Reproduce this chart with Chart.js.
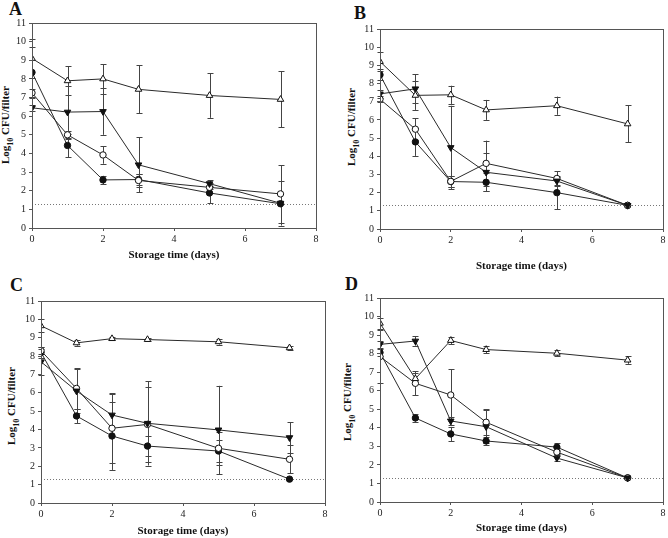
<!DOCTYPE html>
<html>
<head>
<meta charset="utf-8">
<script src="https://cdn.jsdelivr.net/npm/chart.js@4.4.1/dist/chart.umd.min.js"></script>
<style>
  body { margin: 0; background: #fff; }
  #wrap { position: relative; width: 668px; height: 538px; overflow: hidden; font-family: "Liberation Serif", "Times New Roman", serif; }
  canvas { position: absolute; }
  .letter { position: absolute; font-weight: bold; font-size: 18px; line-height: 18px; color: #111; }
  .ytitle { position: absolute; font-weight: bold; font-size: 11px; color: #111; white-space: nowrap;
            transform: translate(-50%, -50%) rotate(-90deg); }
  .ytitle sub { font-size: 8px; }
</style>
</head>
<body>
<div id="wrap">
  <div class="letter" style="left:9px;top:0">A</div>
  <div class="letter" style="left:354px;top:4px">B</div>
  <div class="letter" style="left:10px;top:276px">C</div>
  <div class="letter" style="left:345px;top:275px">D</div>

  <div class="ytitle" style="left:7px;top:125px">Log<sub>10</sub> CFU/filter</div>
  <div class="ytitle" style="left:353px;top:127px">Log<sub>10</sub> CFU/filter</div>
  <div class="ytitle" style="left:13px;top:406px">Log<sub>10</sub> CFU/filter</div>
  <div class="ytitle" style="left:349px;top:402px">Log<sub>10</sub> CFU/filter</div>

  <canvas id="cA" width="334" height="269" style="left:0;top:0"></canvas>
  <canvas id="cB" width="334" height="274" style="left:334px;top:0"></canvas>
  <canvas id="cC" width="334" height="269" style="left:0;top:269px"></canvas>
  <canvas id="cD" width="334" height="269" style="left:334px;top:269px"></canvas>
</div>

<script>
// storage days (x values)
var days = [0, 1, 2, 3, 5, 7];
var xTicks = [0, 2, 4, 6, 8];
var yTicks = [0, 1, 2, 3, 4, 5, 6, 7, 8, 9, 10, 11];
var detectionLimit = 1.3;

// panel A
var aSolidCircle = [8.35, 4.43, 2.58, 2.6, 1.88, 1.3];
var aSolidCircleErr = [1.35, 0.63, 0.22, 0.3, 0.55, 0];
var aOpenCircle = [7.25, 5.0, 3.92, 2.55, 2.18, 1.83];
var aOpenCircleErr = [0.2, 0.2, 0.47, 0.35, 0.1, 1.55];
var aSolidTri = [6.45, 6.22, 6.25, 3.39, 2.38, 1.33];
var aSolidTriErr = [0.15, 1.4, 1.25, 1.47, 0.17, 1.2];
var aOpenTri = [9.1, 7.9, 8.0, 7.44, 7.11, 6.9];
var aOpenTriErr = [1.05, 0.77, 0.8, 1.28, 1.2, 1.5];

// panel B
var bSolidCircle = [8.48, 4.79, 2.61, 2.57, 2.0, 1.3];
var bSolidCircleErr = [0.3, 0.77, 0.3, 0.5, 0.9, 0];
var bOpenCircle = [7.14, 5.49, 2.62, 3.61, 2.78, 1.3];
var bOpenCircleErr = [0.15, 0.6, 0.3, 1.25, 0.4, 0];
var bSolidTri = [7.43, 7.71, 4.48, 3.12, 2.64, 1.3];
var bSolidTriErr = [0.2, 0.8, 2.3, 1.05, 0.2, 0];
var bOpenTri = [9.21, 7.35, 7.38, 6.55, 6.78, 5.78];
var bOpenTriErr = [0.5, 0.8, 0.5, 0.55, 0.5, 1.02];

// panel C
var cSolidCircle = [8.2, 4.74, 3.65, 3.1, 2.83, 1.3];
var cSolidCircleErr = [0.3, 0.4, 1.85, 0.55, 0.6, 0];
var cOpenCircle = [8.29, 6.24, 4.07, 4.28, 2.98, 2.38];
var cOpenCircleErr = [0.2, 1.1, 1.9, 2.05, 0.9, 0.76];
var cSolidTri = [7.69, 6.1, 4.79, 4.34, 3.98, 3.56];
var cSolidTriErr = [0.7, 1.2, 1.13, 2.3, 2.4, 0.83];
var cOpenTri = [9.65, 8.72, 8.95, 8.9, 8.78, 8.45];
var cOpenTriErr = [0.35, 0.15, 0.08, 0.08, 0.15, 0.12];

// panel D
var dSolidCircle = [8.06, 4.53, 3.67, 3.29, 2.96, 1.3];
var dSolidCircleErr = [0.2, 0.2, 0.38, 0.2, 0.2, 0];
var dOpenCircle = [7.84, 6.4, 5.77, 4.3, 2.69, 1.3];
var dOpenCircleErr = [1.45, 0.65, 1.4, 0.7, 0.1, 0];
var dSolidTri = [8.5, 8.68, 4.37, 4.06, 2.37, 1.3];
var dSolidTriErr = [0.2, 0.25, 0.2, 0.9, 0.15, 0];
var dOpenTri = [9.64, 6.65, 8.71, 8.22, 8.02, 7.65];
var dOpenTriErr = [0.3, 0.3, 0.2, 0.2, 0.15, 0.2];

var LINE = '#2a2a2a';
var FONT = '"Liberation Serif", "Times New Roman", serif';

function pts(vals) {
  var out = [];
  for (var i = 0; i < days.length; i++) out.push({x: days[i], y: vals[i]});
  return out;
}

function series(vals, errs, style, filled, rot) {
  return {
    data: pts(vals),
    errors: errs,
    borderColor: LINE,
    borderWidth: 1,
    pointStyle: style,
    pointRotation: rot || 0,
    pointRadius: style == 'triangle' ? 3.8 : 3.2,
    pointBorderWidth: 1,
    pointBorderColor: '#111',
    pointBackgroundColor: filled ? '#111' : '#fff',
    tension: 0,
    fill: false
  };
}

// error bars, dotted limit line and frame
var extras = {
  id: 'extras',
  beforeDatasetsDraw: function(chart) {
    var ctx = chart.ctx, a = chart.chartArea;
    var ys = chart.scales.y;
    ctx.save();
    // detection limit
    ctx.strokeStyle = '#777';
    ctx.lineWidth = 1;
    ctx.setLineDash([1, 2]);
    var yl = Math.round(ys.getPixelForValue(detectionLimit)) + 0.5;
    ctx.beginPath(); ctx.moveTo(a.left, yl); ctx.lineTo(a.right, yl); ctx.stroke();
    ctx.setLineDash([]);
    // error bars
    ctx.strokeStyle = '#444';
    chart.data.datasets.forEach(function(ds, i) {
      var meta = chart.getDatasetMeta(i);
      meta.data.forEach(function(p, j) {
        var e = ds.errors[j];
        if (!e) return;
        var v = ds.data[j].y;
        var top = ys.getPixelForValue(v + e), bot = ys.getPixelForValue(v - e);
        var x = Math.round(p.x) + 0.5;
        ctx.beginPath();
        ctx.moveTo(x, top); ctx.lineTo(x, bot);
        ctx.moveTo(x - 3, Math.round(top) + 0.5); ctx.lineTo(x + 3, Math.round(top) + 0.5);
        ctx.moveTo(x - 3, Math.round(bot) + 0.5); ctx.lineTo(x + 3, Math.round(bot) + 0.5);
        ctx.stroke();
      });
    });
    ctx.restore();
  },
  afterDraw: function(chart) {
    var ctx = chart.ctx, a = chart.chartArea;
    ctx.save();
    ctx.strokeStyle = '#555';
    ctx.lineWidth = 1;
    ctx.strokeRect(Math.round(a.left) + 0.5, Math.round(a.top) + 0.5,
                   Math.round(a.right - a.left), Math.round(a.bottom - a.top));
    ctx.restore();
  }
};

function makePanel(id, sc, oc, st, ot, box) {
  // box: plot area inside the canvas + title padding
  var cv = document.getElementById(id);
  new Chart(cv, {
    type: 'line',
    data: {
      datasets: [
        series(ot[0], ot[1], 'triangle', false, 0),
        series(st[0], st[1], 'triangle', true, 180),
        series(oc[0], oc[1], 'circle', false, 0),
        series(sc[0], sc[1], 'circle', true, 0)
      ]
    },
    options: {
      responsive: false,
      animation: false,
      devicePixelRatio: 1,
      layout: { padding: { left: 0, top: box.t, right: cv.width - box.r, bottom: 0 } },
      plugins: { legend: { display: false }, tooltip: { enabled: false } },
      scales: {
        x: {
          type: 'linear', min: 0, max: 8,
          afterBuildTicks: function(s) { s.ticks = xTicks.map(function(v) { return {value: v}; }); },
          afterFit: function(s) { s.height = cv.height - box.b; s.paddingLeft = 0; s.paddingRight = 0; },
          grid: { drawOnChartArea: false, tickLength: 3, color: '#555' },
          border: { color: '#555' },
          ticks: { font: { family: FONT, size: 10 }, color: '#222', padding: 2, maxRotation: 0, autoSkip: false },
          title: { display: true, text: 'Storage time (days)', color: '#111',
                   font: { family: FONT, size: 11, weight: 'bold' }, padding: { top: 0, bottom: box.tp } }
        },
        y: {
          type: 'linear', min: 0, max: 11,
          afterBuildTicks: function(s) { s.ticks = yTicks.map(function(v) { return {value: v}; }); },
          afterFit: function(s) { s.width = box.l; s.paddingTop = 0; s.paddingBottom = 0; },
          grid: { drawOnChartArea: false, tickLength: 3, color: '#555' },
          border: { color: '#555' },
          ticks: { font: { family: FONT, size: 10 }, color: '#222', padding: 3, autoSkip: false }
        }
      }
    },
    plugins: [extras]
  });
}

makePanel('cA', [aSolidCircle, aSolidCircleErr], [aOpenCircle, aOpenCircleErr],
          [aSolidTri, aSolidTriErr], [aOpenTri, aOpenTriErr], {l: 32, t: 23, r: 316, b: 228, tp: 7});
makePanel('cB', [bSolidCircle, bSolidCircleErr], [bOpenCircle, bOpenCircleErr],
          [bSolidTri, bSolidTriErr], [bOpenTri, bOpenTriErr], {l: 46, t: 29, r: 330, b: 229, tp: 1});
makePanel('cC', [cSolidCircle, cSolidCircleErr], [cOpenCircle, cOpenCircleErr],
          [cSolidTri, cSolidTriErr], [cOpenTri, cOpenTriErr], {l: 41, t: 32, r: 325, b: 234, tp: 0});
makePanel('cD', [dSolidCircle, dSolidCircleErr], [dOpenCircle, dOpenCircleErr],
          [dSolidTri, dSolidTriErr], [dOpenTri, dOpenTriErr], {l: 46, t: 29, r: 331, b: 233, tp: 3});
</script>
</body>
</html>
